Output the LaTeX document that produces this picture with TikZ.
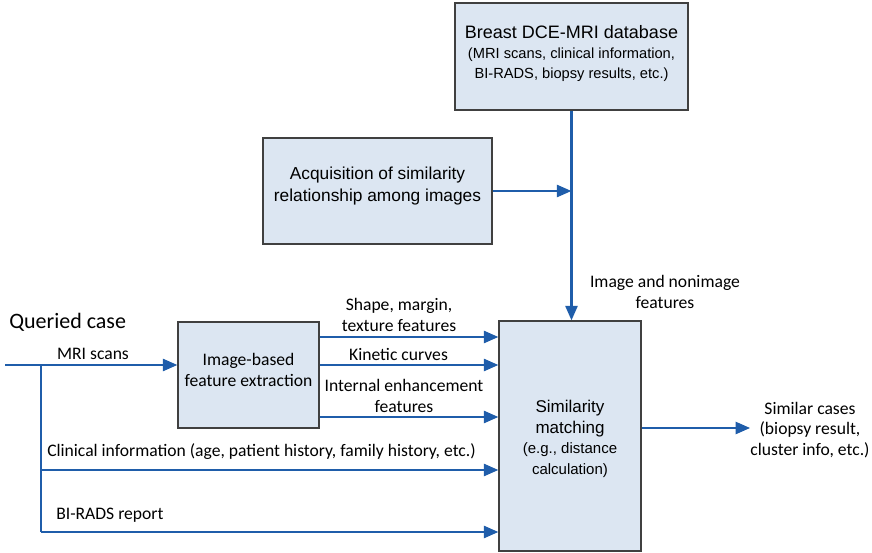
\documentclass[tikz,border=0pt]{standalone}
\usepackage{fontspec}
\setmainfont{Liberation Sans}
\newfontfamily\calfont{Carlito}
\usetikzlibrary{arrows.meta}
\definecolor{arrblue}{HTML}{1F5DAA}
\definecolor{boxfill}{HTML}{DCE6F2}
\definecolor{boxline}{HTML}{404040}
\begin{document}
\begin{tikzpicture}[x=0.75pt,y=-0.75pt,
 box/.style={draw=boxline, fill=boxfill, line width=0.8pt, inner sep=0pt},
 boxtext/.style={align=center, inner sep=0pt},
 arr/.style={draw=arrblue, line width=2pt, -{Triangle[length=11pt,width=9pt]}},
 ln/.style={draw=arrblue, line width=2pt},
 lbl/.style={font=\calfont\fontsize{13.2}{15.5}\selectfont, align=center, inner sep=0pt}]
\useasboundingbox (0,0) rectangle (872,553);

% boxes
\node[box, minimum width=174.75pt, minimum height=80.25pt] (db) at (571.5,56.5) {};
\node[boxtext, font=\fontsize{11}{15}\selectfont] (dbtext) at (571.5,53)
 {{\fontsize{13.5}{15}\selectfont Breast DCE-MRI database}\\(MRI scans, clinical information,\\BI-RADS, biopsy results, etc.)};
\node[box, minimum width=171.75pt, minimum height=79.5pt] (acq) at (377.5,191) {};
\node[boxtext, font=\fontsize{13}{15.8}\selectfont] (acqtext) at (377.5,186)
 {Acquisition of similarity\\relationship among images};
\node[box, minimum width=105.75pt, minimum height=79.5pt] (img) at (248.5,375) {};
\node[boxtext, font=\calfont\fontsize{13.2}{15.8}\selectfont] (imgtext) at (248.5,370)
 {Image-based\\feature extraction};
\node[box, minimum width=106.5pt, minimum height=172.5pt] (sim) at (570,436) {};
\node[boxtext, font=\fontsize{12.75}{15.5}\selectfont] (simtext) at (570,439)
 {Similarity\\matching\\{\fontsize{11.25}{15.5}\selectfont (e.g., distance}\\{\fontsize{11.25}{15.5}\selectfont calculation)}};

% labels
\node[lbl, font=\calfont\fontsize{16.5}{19}\selectfont, anchor=west] (queried) at (9,322) {Queried case};
\node[lbl] (mrilbl) at (93,354) {MRI scans};
\node[lbl, anchor=west] (cliniclbl) at (47,452) {Clinical information (age, patient history, family history, etc.)};
\node[lbl, anchor=west] (biradslbl) at (56,515) {BI-RADS report};
\node[lbl] (shapelbl) at (399,315) {Shape, margin,\\texture features};
\node[lbl] (kinlbl) at (398.5,354) {Kinetic curves};
\node[lbl] (intlbl) at (404,396) {Internal enhancement\\features};
\node[lbl] (nonimg) at (665,292) {Image and nonimage\\features};
\node[lbl] (simcases) at (810,430) {Similar cases\\(biopsy result,\\cluster info, etc.)};

% coordinates
\coordinate (qstart) at (5,365);
\coordinate (branch) at (41,365);
\coordinate (clin) at (41,470);
\coordinate (bend) at (41,532);
\coordinate (o1) at (0,337);
\coordinate (o2) at (0,365);
\coordinate (o3) at (0,417);

% connectors
\draw[arr] (db.south) -- (db.south |- sim.north);
\draw[arr] (acq.east) -- (acq.east -| db.south);
\draw[arr] (qstart) -- (img.west |- qstart);
\draw[ln] (branch) -- (bend);
\draw[arr] (clin) -- (sim.west |- clin);
\draw[arr] (bend) -- (sim.west |- bend);
\draw[arr] (img.east |- o1) -- (sim.west |- o1);
\draw[arr] (img.east |- o2) -- (sim.west |- o2);
\draw[arr] (img.east |- o3) -- (sim.west |- o3);
\draw[arr] (sim.east |- 0,428) -- (simcases.west |- 0,428);
\end{tikzpicture}
\end{document}
